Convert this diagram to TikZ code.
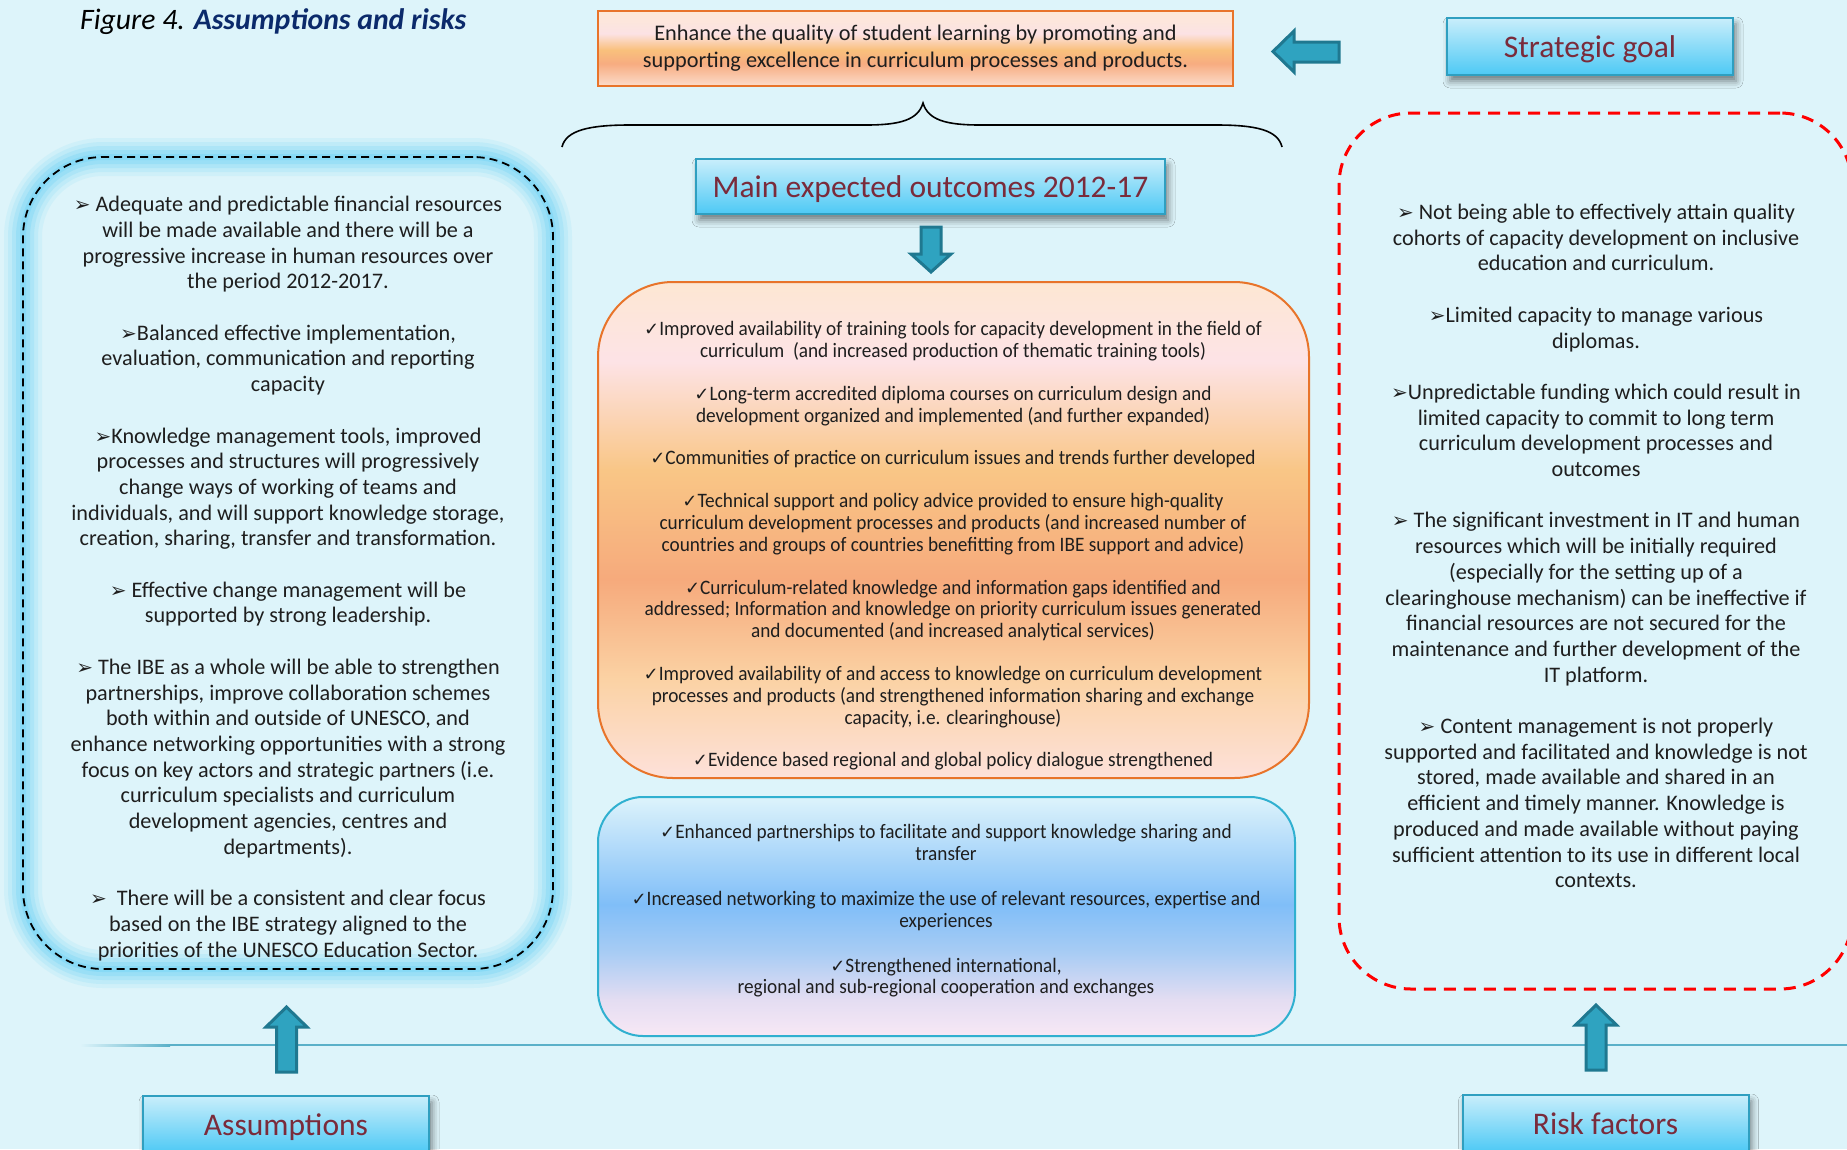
\documentclass[tikz,border=0pt]{standalone}
\usepackage{fontspec}
\setmainfont{Carlito}
\newfontfamily\condfont{Carlito}[FakeStretch=0.94]
\newfontfamily\symf{DejaVu Sans}
\usetikzlibrary{shadows.blur}

\definecolor{bg}{HTML}{DDF4FA}
\definecolor{navy}{HTML}{0B2A6B}
\definecolor{maroon}{HTML}{7A2B3B}
\definecolor{lblborder}{HTML}{2F9FC0}
\definecolor{lbltop}{HTML}{C9EEFB}
\definecolor{lblbot}{HTML}{4DC9F5}
\definecolor{arrfill}{HTML}{2FA3C0}
\definecolor{arrdraw}{HTML}{1F7890}
\definecolor{orbord}{HTML}{E8742A}
\definecolor{blbord}{HTML}{30B0D0}
\definecolor{glowc}{HTML}{6FD4F6}
\definecolor{hline}{HTML}{5AB0C8}
\definecolor{txt}{HTML}{1E1E1E}

% shading stops: path bbox spans 25bp (bottom) .. 75bp (top)
\definecolor{gA}{HTML}{FCDCCB}
\definecolor{gB}{HTML}{F7AC80}
\definecolor{gC}{HTML}{F9C07C}
\definecolor{gD}{HTML}{FCE2E4}
\definecolor{gE}{HTML}{FDE9D6}
\pgfdeclareverticalshading{goalG}{100bp}{color(0bp)=(gA); color(25bp)=(gA); color(40bp)=(gB); color(49bp)=(gC); color(60bp)=(gD); color(75bp)=(gE); color(100bp)=(gE)}

\definecolor{oA}{HTML}{FDE1DA}
\definecolor{oB}{HTML}{FBD2A4}
\definecolor{oC}{HTML}{F6AA7C}
\definecolor{oD}{HTML}{F9C686}
\definecolor{oE}{HTML}{FDE3E6}
\definecolor{oF}{HTML}{FDE7D3}
\pgfdeclareverticalshading{orangeG}{100bp}{color(0bp)=(oA); color(25bp)=(oA); color(35bp)=(oB); color(45bp)=(oC); color(56bp)=(oD); color(67bp)=(oE); color(75bp)=(oF); color(100bp)=(oF)}

\definecolor{bA}{HTML}{F8E8F5}
\definecolor{bB}{HTML}{E4DDF2}
\definecolor{bC}{HTML}{A8CCF4}
\definecolor{bD}{HTML}{80BEF8}
\definecolor{bE}{HTML}{DDF3FB}
\pgfdeclareverticalshading{blueG}{100bp}{color(0bp)=(bA); color(25bp)=(bA); color(32.5bp)=(bB); color(42.5bp)=(bC); color(52.5bp)=(bD); color(75bp)=(bE); color(100bp)=(bE)}

\newcommand{\arrb}{{\symf\fontsize{20}{25.7}\selectfont ➢}}
\newcommand{\chk}{{\symf\fontsize{18}{21.8}\selectfont ✓}}

\begin{document}
\begin{tikzpicture}[x=1pt,y=-1pt,
  lblbox/.style={draw=lblborder, line width=2pt, top color=lbltop, bottom color=lblbot,
    minimum width=286pt, minimum height=57pt, inner sep=0pt, outer sep=0pt,
    text height=25pt, text depth=2.4pt,
    font=\fontsize{31.5}{36}\selectfont, text=maroon,
    blur shadow={shadow xshift=3pt, shadow yshift=-6pt, shadow blur radius=7pt, shadow opacity=50}},
  sidetext/.style={align=center, inner sep=0pt, text=txt, font=\fontsize{22.2}{25.7}\selectfont},
  midtext/.style={align=center, inner sep=0pt, text=txt, font=\condfont\fontsize{20.5}{21.8}\selectfont},
  blockarr/.style={fill=arrfill, draw=arrdraw, line width=3pt, line join=miter},
  uparr/.pic={\path[blockarr] (0,0) -- (20.5,20) -- (10,20) -- (10,65) -- (-10,65) -- (-10,20) -- (-20.5,20) -- cycle;}
]
\useasboundingbox (0,0) rectangle (1847,1149);
\fill[bg] (0,0) rectangle (1847,1149);
\clip (0,0) rectangle (1847,1149);

% horizontal line
\fill[left color=bg, right color=hline] (80,1044) rectangle (170,1046);
\draw[hline, line width=2pt] (170,1045) -- (1847,1045);

% title
\node[anchor=base west, inner sep=0pt, font=\fontsize{29.7}{34}\selectfont] (title) at (80,29)
  {\itshape Figure 4. \textcolor{navy}{\bfseries\itshape Assumptions and risks}};

% goal box
\node[draw=orbord, line width=2pt, shading=goalG, minimum width=635pt, minimum height=75pt,
  inner sep=0pt, align=center, text=txt, font=\fontsize{22.3}{27}\selectfont] (goal) at (915.5,48.5)
  {Enhance the quality of student learning by promoting and\\supporting excellence in curriculum processes and products.};

% left arrow toward goal
\path[blockarr] (1273,51.5) -- (1294,31) -- (1294,42) -- (1339,42) -- (1339,62) -- (1294,62) -- (1294,72) -- cycle;

\node[lblbox] (sg) at (1590,46.5) {Strategic goal};

% brace
\draw[line width=1.6pt] (562,147) .. controls (566,130) and (590,125) .. (630,125) -- (866,125)
  .. controls (900,125) and (918,120) .. (923,103) .. controls (928,120) and (946,125) .. (980,125)
  -- (1216,125) .. controls (1256,125) and (1278,130) .. (1282,147);

\node[lblbox, minimum width=469pt, minimum height=55pt] (meo) at (930.5,186.5) {Main expected outcomes 2012-17};

% down arrow
\path[blockarr] (931,272) -- (951,254) -- (941,254) -- (941,227) -- (921,227) -- (921,254) -- (911,254) -- cycle;

% orange box
\node[draw=orbord, line width=2pt, shading=orangeG, rounded corners=75pt, minimum width=711pt,
  minimum height=496pt, inner sep=0pt] (obox) at (953.5,530) {};
\node[midtext] (otext) at (953,546) {%
\chk Improved availability of training tools for capacity development in the field of\\
curriculum\ \ (and increased production of thematic training tools)\\[21pt]
\chk Long-term accredited diploma courses on curriculum design and\\
development organized and implemented (and further expanded)\\[21pt]
\chk Communities of practice on curriculum issues and trends further developed\\[21pt]
\chk Technical support and policy advice provided to ensure high-quality\\
curriculum development processes and products (and increased number of\\
countries and groups of countries benefitting from IBE support and advice)\\[21pt]
\chk Curriculum-related knowledge and information gaps identified and\\
addressed; Information and knowledge on priority curriculum issues generated\\
and documented (and increased analytical services)\\[21pt]
\chk Improved availability of and access to knowledge on curriculum development\\
processes and products (and strengthened information sharing and exchange\\
capacity, i.e. clearinghouse)\\[21pt]
\chk Evidence based regional and global policy dialogue strengthened};

% blue box
\node[draw=blbord, line width=2pt, shading=blueG, rounded corners=45pt, minimum width=697pt,
  minimum height=239pt, inner sep=0pt] (bbox) at (946.5,916.5) {};
\node[midtext] (btext) at (946,911) {%
\chk Enhanced partnerships to facilitate and support knowledge sharing and\\
transfer\\[23pt]
\chk Increased networking to maximize the use of relevant resources, expertise and\\
experiences\\[23pt]
\chk Strengthened international,\\
regional and sub-regional cooperation and exchanges};

% left box glow + dashed border
\foreach \w/\o in {38/0.12, 30/0.16, 22/0.22, 14/0.3, 6/0.4}
  \draw[glowc, line width=\w pt, opacity=\o, rounded corners=80pt] (23,157) rectangle (553,969);
\node[draw=black, line width=1.8pt, dash pattern=on 8pt off 5pt, rounded corners=80pt,
  minimum width=530pt, minimum height=812pt, inner sep=0pt] (abox) at (288,563) {};
\node[sidetext] (atext) at (288,578.5) {%
\arrb\ Adequate and predictable financial resources\\
will be made available and there will be a\\
progressive increase in human resources over\\
the period 2012-2017.\\[25.7pt]
\arrb Balanced effective implementation,\\
evaluation, communication and reporting\\
capacity\\[25.7pt]
\arrb Knowledge management tools, improved\\
processes and structures will progressively\\
change ways of working of teams and\\
individuals, and will support knowledge storage,\\
creation, sharing, transfer and transformation.\\[25.7pt]
\arrb\ Effective change management will be\\
supported by strong leadership.\\[25.7pt]
\arrb\ The IBE as a whole will be able to strengthen\\
partnerships, improve collaboration schemes\\
both within and outside of UNESCO, and\\
enhance networking opportunities with a strong\\
focus on key actors and strategic partners (i.e.\\
curriculum specialists and curriculum\\
development agencies, centres and\\
departments).\\[25.7pt]
\arrb\ \ There will be a consistent and clear focus\\
based on the IBE strategy aligned to the\\
priorities of the UNESCO Education Sector.};

% right box
\node[draw=red, line width=3pt, dash pattern=on 12pt off 8pt, rounded corners=72pt,
  minimum width=513pt, minimum height=876pt, inner sep=0pt] (rbox) at (1595.5,551) {};
\node[sidetext] (rtext) at (1596,546) {%
\arrb\ Not being able to effectively attain quality\\
cohorts of capacity development on inclusive\\
education and curriculum.\\[25.7pt]
\arrb Limited capacity to manage various\\
diplomas.\\[25.7pt]
\arrb Unpredictable funding which could result in\\
limited capacity to commit to long term\\
curriculum development processes and\\
outcomes\\[25.7pt]
\arrb\ The significant investment in IT and human\\
resources which will be initially required\\
(especially for the setting up of a\\
clearinghouse mechanism) can be ineffective if\\
financial resources are not secured for the\\
maintenance and further development of the\\
IT platform.\\[25.7pt]
\arrb\ Content management is not properly\\
supported and facilitated and knowledge is not\\
stored, made available and shared in an\\
efficient and timely manner. Knowledge is\\
produced and made available without paying\\
sufficient attention to its use in different local\\
contexts.};

% up arrows
\pic at (286.5,1007) {uparr};
\pic at (1596,1005) {uparr};

\node[lblbox] (asl) at (286,1124.5) {Assumptions};
\node[lblbox] (rfl) at (1605.5,1123.5) {Risk factors};
\end{tikzpicture}
\end{document}
